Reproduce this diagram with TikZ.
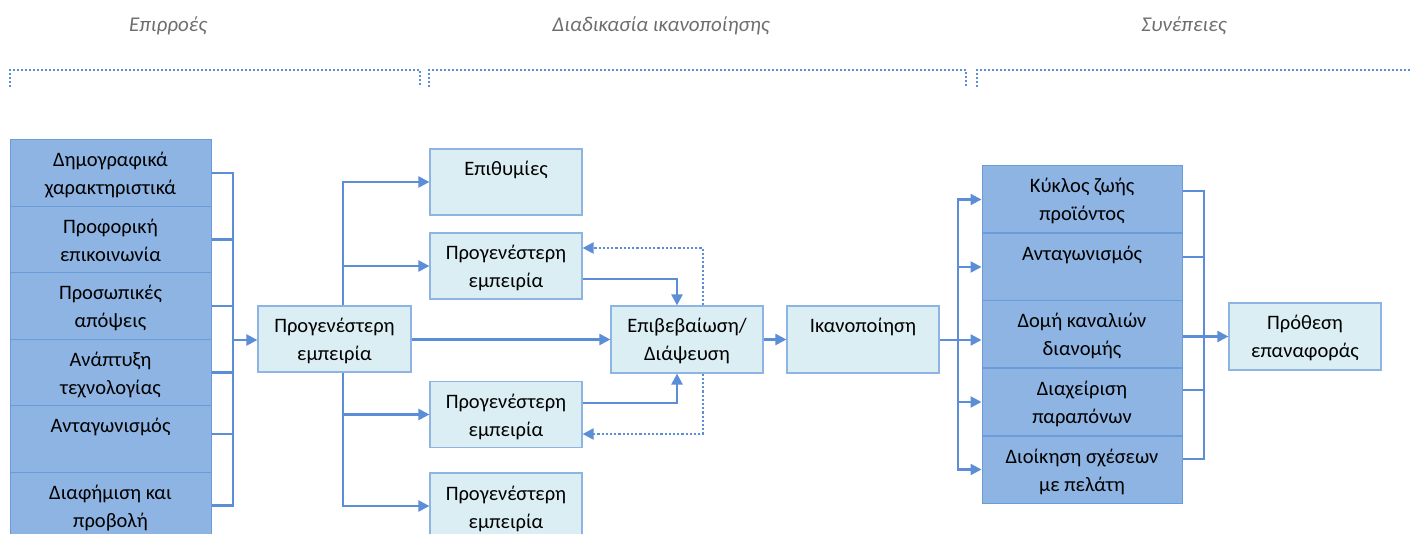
\documentclass[tikz,border=0pt]{standalone}
\usepackage{fontspec}
\setmainfont{Carlito}
\usetikzlibrary{arrows.meta}
\definecolor{darkfill}{HTML}{8DB4E2}
\definecolor{darkline}{HTML}{6A9BDB}
\definecolor{lightfill}{HTML}{DBEEF4}
\definecolor{lightline}{HTML}{8DB4E2}
\definecolor{linkblue}{HTML}{5B8ED6}
\definecolor{hdrgray}{HTML}{6E6E6E}
% text set from the top of a fixed-size cell
\newcommand{\celltext}[3]{\parbox[c][#2][t]{#1}{\centering\rule{0pt}{27pt}#3}}
\begin{document}
\begin{tikzpicture}[x=1pt,y=-1pt,
  font=\fontsize{20.5pt}{28pt}\selectfont,
  dark/.style={draw=darkline, fill=darkfill, line width=1pt, inner sep=0pt},
  light/.style={draw=lightline, fill=lightfill, line width=1.2pt, inner sep=0pt},
  conn/.style={draw=linkblue, line width=2.3pt},
  arr/.style={conn, -{Triangle[length=11pt,width=11pt]}},
  fb/.style={draw=linkblue, line width=2.2pt, dash pattern=on 2.2pt off 2pt, -{Triangle[length=11pt,width=11pt]}},
  hdr/.style={font=\fontsize{21pt}{24pt}\selectfont\itshape, text=hdrgray, anchor=base},
  brk/.style={draw=linkblue, line width=2pt, dash pattern=on 2pt off 2pt}]
\useasboundingbox (0,0) rectangle (1411,534);
\clip (0,0) rectangle (1411,534);

% column headings
\node[hdr] (h1) at (168,32) {Επιρροές};
\node[hdr] (h2) at (661,32) {Διαδικασία ικανοποίησης};
\node[hdr] (h3) at (1184,32) {Συνέπειες};
\draw[brk] (10,87) |- (420,70) -- (420,87);
\draw[brk] (429,87) |- (966,70) -- (966,87);
\draw[brk] (977,87) |- (1411,70);

% influences
\node[dark] (L1) at (110.5,173)   {\celltext{201pt}{66.5pt}{Δημογραφικά\\χαρακτηριστικά}};
\node[dark] (L2) at (110.5,239.5) {\celltext{201pt}{66.5pt}{Προφορική\\επικοινωνία}};
\node[dark] (L3) at (110.5,306)   {\celltext{201pt}{66.5pt}{Προσωπικές\\απόψεις}};
\node[dark] (L4) at (110.5,372.5) {\celltext{201pt}{66.5pt}{Ανάπτυξη\\τεχνολογίας}};
\node[dark] (L5) at (110.5,439)   {\celltext{201pt}{66.5pt}{Ανταγωνισμός}};
\node[dark] (L6) at (110.5,505.5) {\celltext{201pt}{66.5pt}{Διαφήμιση και\\προβολή}};

% satisfaction process
\node[light] (P)  at (334.5,339)  {\celltext{153pt}{66pt}{Προγενέστερη\\εμπειρία}};
\node[light] (E)  at (506,182)    {\celltext{152pt}{66pt}{Επιθυμίες}};
\node[light] (Q1) at (506,266)    {\celltext{152pt}{66pt}{Προγενέστερη\\εμπειρία}};
\node[light] (Q2) at (506,414.5)  {\celltext{152pt}{66pt}{Προγενέστερη\\εμπειρία}};
\node[light] (Q3) at (506,506)    {\celltext{152pt}{66pt}{Προγενέστερη\\εμπειρία}};
\node[light] (V)  at (687,339.5)  {\celltext{152pt}{67pt}{Επιβεβαίωση/\\Διάψευση}};
\node[light] (S)  at (863,339.5)  {\celltext{152pt}{67pt}{Ικανοποίηση}};

% consequences
\node[dark] (R1) at (1082,199.5) {\celltext{200pt}{67pt}{Κύκλος ζωής\\προϊόντος}};
\node[dark] (R2) at (1082,267)   {\celltext{200pt}{67pt}{Ανταγωνισμός}};
\node[dark] (R3) at (1082,334.5) {\celltext{200pt}{67pt}{Δομή καναλιών\\διανομής}};
\node[dark] (R4) at (1082,402)   {\celltext{200pt}{67pt}{Διαχείριση\\παραπόνων}};
\node[dark] (R5) at (1082,469.5) {\celltext{200pt}{67pt}{Διοίκηση σχέσεων\\με πελάτη}};
\node[light] (T) at (1305,336.5) {\celltext{152pt}{67pt}{Πρόθεση\\επαναφοράς}};

% influences gather into prior experience
\coordinate (jL) at (233,340);
\foreach \n in {L1,L2,L3,L4,L6} \draw[conn] (\n.east) -| (jL);
\draw[conn] ([yshift=5pt]L5.east) -| (jL);
\draw[arr] (jL) -- (P.west |- jL);

% prior experience branches
\draw[arr] ([xshift=8.5pt]P.north) |- (E.west);
\draw[arr] ([xshift=8.5pt]P.north) |- (Q1.west);
\draw[arr] ([xshift=8.5pt]P.south) |- (Q2.west);
\draw[arr] ([xshift=8.5pt]P.south) |- (Q3.west);
\draw[arr] (P.east |- V.west) -- (V.west);

% confirmation loop
\draw[arr] ([yshift=-13pt]Q1.east) -| ([xshift=-10pt]V.north);
\draw[arr] ([yshift=11.5pt]Q2.east) -| ([xshift=-10pt]V.south);
\draw[fb] ([xshift=16pt]V.north) |- ([yshift=18pt]Q1.east);
\draw[fb] ([xshift=16pt]V.south) |- ([yshift=-19.5pt]Q2.east);
\draw[arr] (V.east) -- (S.west);

% satisfaction spreads to the consequences
\coordinate (jR) at (958,340);
\draw[conn] (S.east |- jR) -- (jR);
\foreach \n in {R1,R2,R4,R5} \draw[arr] (jR) |- (\n.west);
\draw[arr] (jR) -- (R3.west |- jR);

% consequences gather into repurchase intention
\coordinate (jT) at (1204,337);
\draw[conn] ([yshift=8.5pt]R1.east) -| (jT);
\draw[conn] ([yshift=10pt]R2.east) -| (jT);
\draw[conn] ([yshift=12pt]R4.east) -| (jT);
\draw[conn] ([yshift=10.5pt]R5.east) -| (jT);
\draw[arr] (R3.east |- T.west) -- (T.west);
\end{tikzpicture}
\end{document}
